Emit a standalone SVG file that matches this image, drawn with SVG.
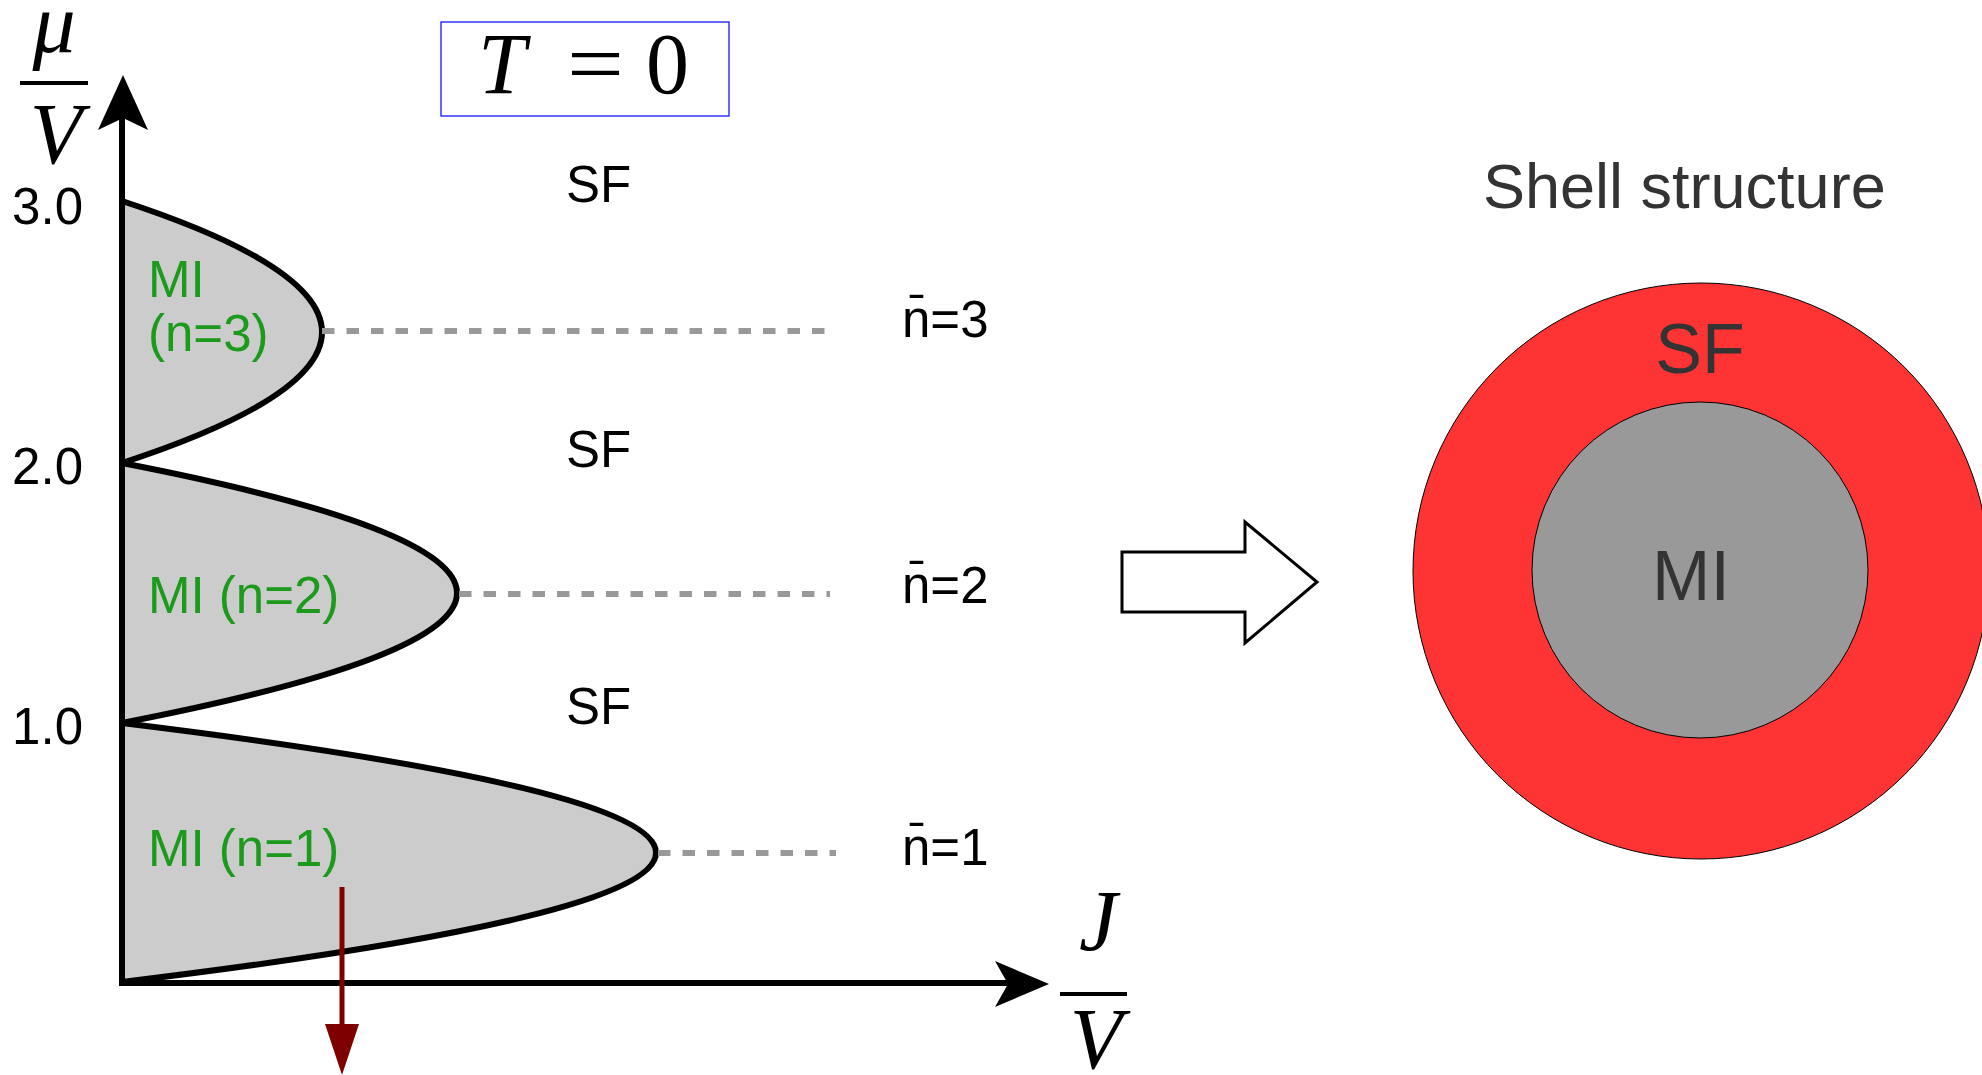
<svg xmlns="http://www.w3.org/2000/svg" width="1982" height="1075" viewBox="0 0 1982 1075">
<style>
.lbl{font-family:"Liberation Sans",Arial,sans-serif;font-size:51px;fill:#000}
.grn{font-family:"Liberation Sans",Arial,sans-serif;font-size:51px;fill:#1c9a1c}
.math{font-family:"Liberation Serif","Times New Roman",serif;font-size:86px;fill:#000}
.it{font-style:italic}
.lobe{fill:#cccccc;stroke:#000;stroke-width:6;stroke-linejoin:round}
.dash{stroke:#999;stroke-width:6;stroke-dasharray:12.5 12;fill:none}
.shell{font-family:"Liberation Sans",Arial,sans-serif;fill:#333}
</style>
<rect width="1982" height="1075" fill="#fff"/>

<g id="title-box">
<rect x="441" y="22" width="288" height="94" fill="none" stroke="#3333ff" stroke-width="1.5"/>
<text class="math it" x="478" y="93" font-size="94">T</text>
<text class="math" x="567" y="93" font-size="94" textLength="57" lengthAdjust="spacingAndGlyphs">=</text>
<text class="math" x="646" y="93" font-size="94">0</text>
</g>

<g id="lobes">
<path class="lobe" d="M122 723 Q1190 853 122 982 Z"/>
<path class="lobe" d="M122 463 Q792 593 122 723 Z"/>
<path class="lobe" d="M122 201 Q522 332 122 463 Z"/>
</g>

<g id="connectors">
<line class="dash" x1="322" y1="331" x2="830" y2="331"/>
<line class="dash" x1="459" y1="594" x2="830" y2="594"/>
<line class="dash" x1="658" y1="853" x2="836" y2="853"/>
<line x1="122" y1="110" x2="122" y2="986" stroke="#000" stroke-width="6"/>
<polygon points="123,75 148,130 123,118 98,130" fill="#000"/>
<line x1="119" y1="983" x2="1010" y2="983" stroke="#000" stroke-width="6"/>
<polygon points="1049,984 995,1007 1008,984 995,961" fill="#000"/>
<line x1="342" y1="887" x2="342" y2="1028" stroke="#7f0000" stroke-width="5"/>
<polygon points="325,1024 359,1024 342,1075" fill="#7f0000"/>
<polygon points="1122,552 1245,552 1245,522 1317,582 1245,643 1245,612 1122,612" fill="#fff" stroke="#000" stroke-width="3" stroke-linejoin="miter"/>
</g>

<g id="axis-labels">
<text class="math it" x="54" y="52" text-anchor="middle" font-size="80">μ</text>
<rect x="20" y="81" width="68" height="4" fill="#000"/>
<text class="math it" x="56" y="163" text-anchor="middle">V</text>
<text class="math it" x="1098" y="950" text-anchor="middle">J</text>
<rect x="1060" y="992" width="67" height="4" fill="#000"/>
<text class="math it" x="1096" y="1068" text-anchor="middle" font-size="82">V</text>
<text class="lbl" x="83" y="224" text-anchor="end">3.0</text>
<text class="lbl" x="83" y="484" text-anchor="end">2.0</text>
<text class="lbl" x="83" y="744" text-anchor="end">1.0</text>
</g>

<g id="phase-labels">
<text class="lbl" x="566" y="202" font-size="52">SF</text>
<text class="lbl" x="566" y="467" font-size="52">SF</text>
<text class="lbl" x="566" y="724" font-size="52">SF</text>
<text class="grn" x="148" y="297">MI</text>
<text class="grn" x="148" y="351">(n=3)</text>
<text class="grn" x="148" y="613">MI (n=2)</text>
<text class="grn" x="148" y="866">MI (n=1)</text>
<text class="lbl" x="902" y="337">n̄=3</text>
<text class="lbl" x="902" y="603">n̄=2</text>
<text class="lbl" x="902" y="865">n̄=1</text>
</g>

<g id="shell">
<text class="shell" x="1483" y="208" font-size="63">Shell structure</text>
<circle cx="1701" cy="571" r="288" fill="#fe3434" stroke="#000" stroke-width="1"/>
<circle cx="1700" cy="570" r="168" fill="#999999" stroke="#000" stroke-width="1"/>
<text class="shell" x="1700" y="373" font-size="70" text-anchor="middle">SF</text>
<text class="shell" x="1691" y="600" font-size="70" text-anchor="middle">MI</text>
</g>
</svg>
